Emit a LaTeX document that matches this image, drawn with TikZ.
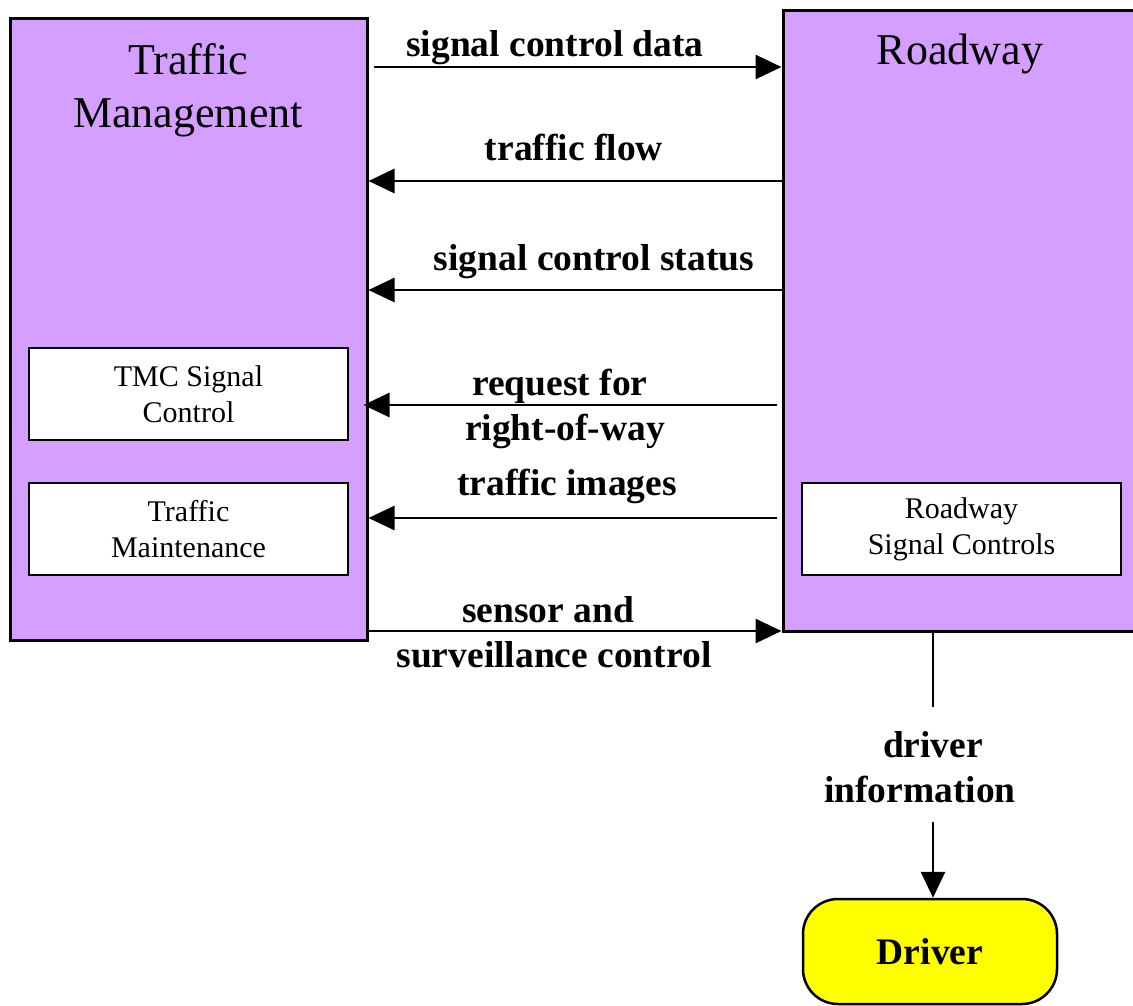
\documentclass[tikz,border=0pt]{standalone}
\usepackage{fontspec}
\setmainfont{Liberation Serif}
\usetikzlibrary{arrows.meta}
\definecolor{boxpurple}{RGB}{213,159,255}
\definecolor{drvyellow}{RGB}{255,255,0}
\begin{document}
\begin{tikzpicture}[x=1pt,y=-1pt,
  bigbox/.style={draw=black,line width=3pt,fill=boxpurple,rectangle,inner sep=0pt},
  subbox/.style={draw=black,line width=2.5pt,fill=white,rectangle,inner sep=0pt,minimum width=319pt,minimum height=92pt,align=center,font=\fontsize{30}{36}\selectfont},
  title/.style={font=\fontsize{44}{53}\selectfont,anchor=base,inner sep=0pt},
  lbl/.style={font=\fontsize{37.5}{45}\selectfont\bfseries,anchor=base,inner sep=0pt},
  arr/.style={line width=2.8pt,-{Triangle[length=26pt,width=24pt]}},
  ln/.style={line width=2.8pt}
]
\useasboundingbox (0,0) rectangle (1133,1005);
\clip (0,0) rectangle (1133,1005);
% main boxes
\node[bigbox,minimum width=357pt,minimum height=622pt] (tm) at (188.5,329) {};
\node[bigbox,minimum width=380pt,minimum height=621pt] (rw) at (973,320.5) {};
\node[title] (tmt1) at (188,74) {Traffic};
\node[title] (tmt2) at (188,127) {Management};
\node[title] (rwt) at (960,64) {Roadway};
% sub boxes
\node[subbox] (tmc) at (188.5,394) {TMC Signal\\Control};
\node[subbox] (tmaint) at (188.5,529) {Traffic\\Maintenance};
\node[subbox] (rsc) at (961.5,529) {Roadway\\Signal Controls};
% driver
\node[draw=black,line width=2.5pt,fill=drvyellow,rounded corners=35pt,minimum width=254pt,minimum height=105pt,inner sep=0pt,font=\fontsize{37.5}{45}\selectfont\bfseries] (drv) at (930,951.5) {Driver};
% flows
\draw[arr] ([xshift=5pt]tm.east |- 0,67) -- (rw.west |- 0,67);
\node[lbl] (l1) at (555,56) {signal control data};
\draw[arr] (rw.west |- 0,181) -- (tm.east |- 0,181);
\node[lbl] (l2) at (574,160) {traffic flow};
\draw[arr] (rw.west |- 0,290) -- (tm.east |- 0,290);
\node[lbl] (l3) at (594,270) {signal control status};
\draw[arr] ([xshift=-5pt]rw.west |- 0,405) -- ([xshift=-5pt]tm.east |- 0,405);
\node[lbl] (l4a) at (560,395) {request for};
\node[lbl] (l4b) at (565,440) {right-of-way};
\draw[arr] ([xshift=-5pt]rw.west |- 0,518) -- (tm.east |- 0,518);
\node[lbl] (l5) at (567,495) {traffic images};
\draw[arr] (tm.east |- 0,631) -- (rw.west |- 0,631);
\node[lbl] (l6a) at (548,622) {sensor and};
\node[lbl] (l6b) at (554,667) {surveillance control};
% driver information
\coordinate (dgap1) at (933,707);
\coordinate (dgap2) at (933,822);
\draw[ln] (rw.south -| dgap1) -- (dgap1);
\draw[arr] (dgap2) -- (drv.north -| dgap2);
\node[lbl] (l7a) at (933,757) {driver};
\node[lbl] (l7b) at (920,802) {information};
\end{tikzpicture}
\end{document}
